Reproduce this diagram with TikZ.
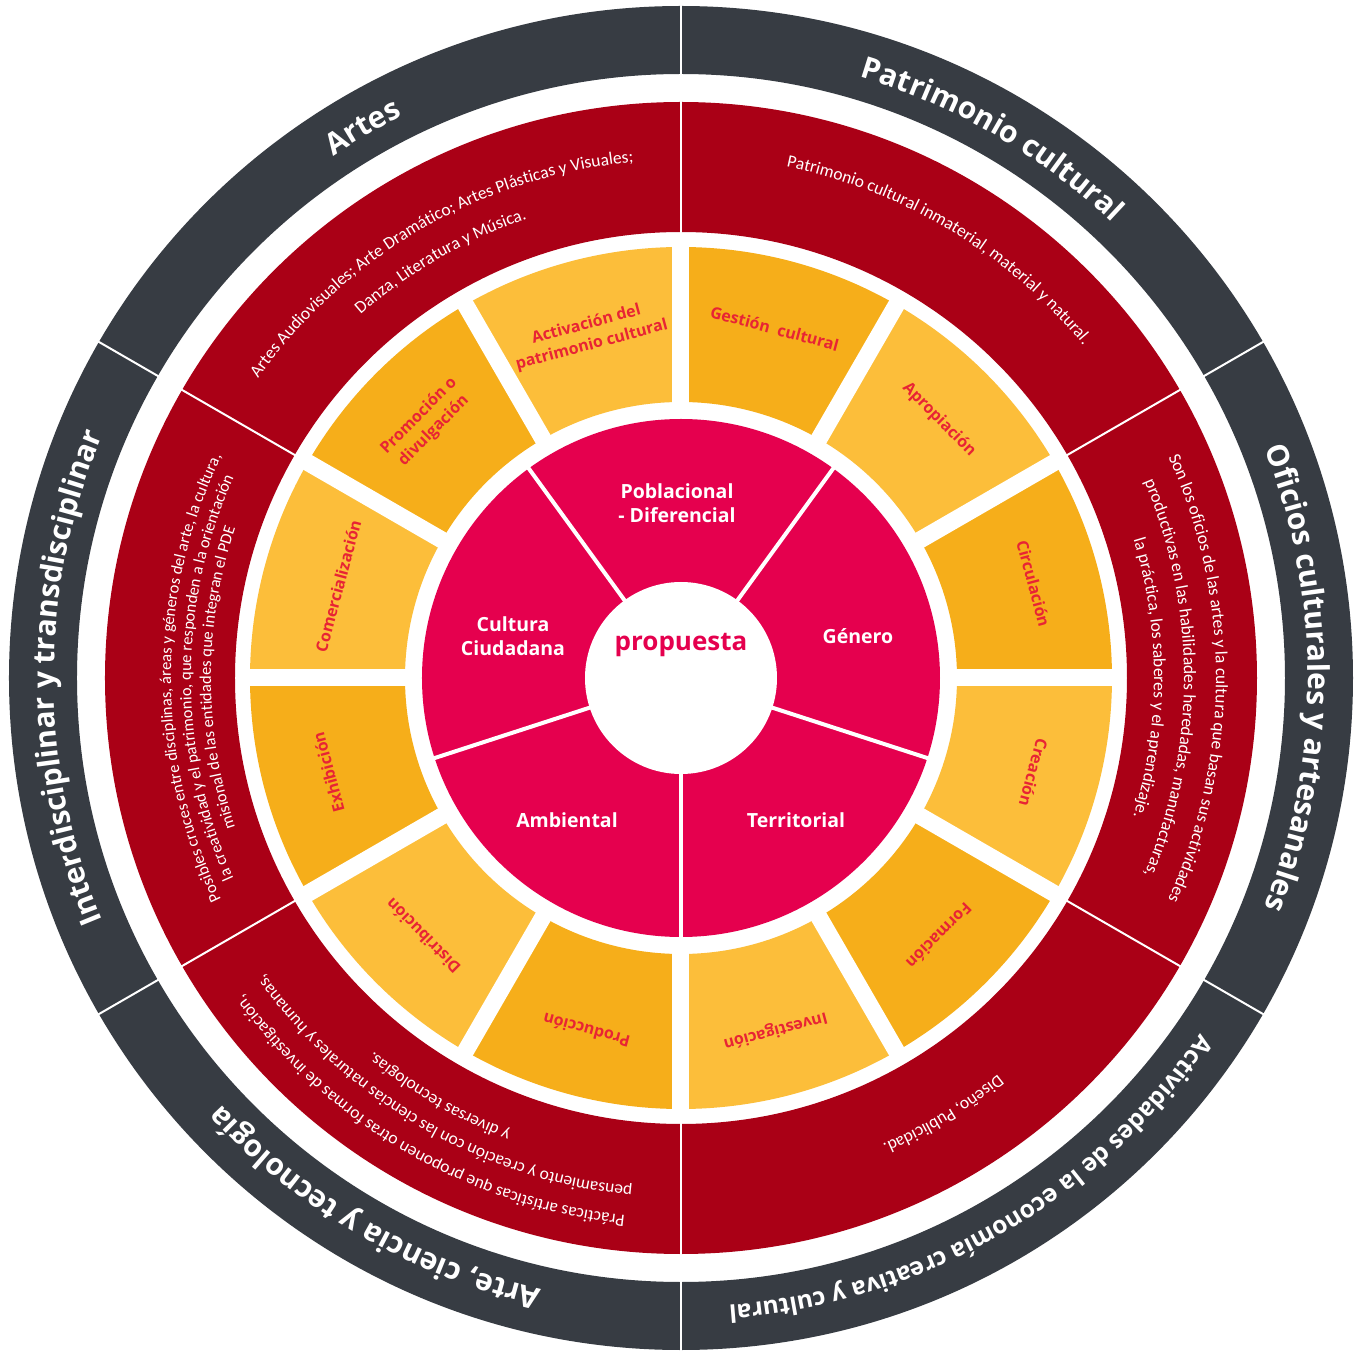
\documentclass[tikz,border=0pt]{standalone}
\usepackage{fontspec}
\setmainfont{Open Sans}
\newfontfamily\descfont{Carlito}
\usetikzlibrary{decorations.text}

\begin{document}
\begin{tikzpicture}[x=1pt, y=1pt,
    ringtitle/.style={decorate, decoration={text along path, text align=center,
      text={|\bfseries\fontsize{30}{36}\selectfont\color{white}|#1}}},
    ringtitlesmall/.style={decorate, decoration={text along path, text align=center,
      text={|\bfseries\fontsize{24.5}{30}\selectfont\color{white}|#1}}},
    ringtext/.style={decorate, decoration={text along path, text align=center,
      text={|\descfont\fontsize{17.5}{21}\selectfont\color{white}|#1}}},
    ringtextsmall/.style={decorate, decoration={text along path, text align=center,
      text={|\descfont\fontsize{16.5}{20}\selectfont\color{white}|#1}}},
    seglabel/.style={text=segred, font=\bfseries\fontsize{16}{21}\selectfont, align=center, inner sep=0},
    corelabel/.style={text=white, font=\bfseries\fontsize{19.5}{24}\selectfont, align=center, inner sep=0},
    divider/.style={white, line width=2}]
  \definecolor{ringdark}{RGB}{55,60,67}
  \definecolor{ringred}{RGB}{170,0,22}
  \definecolor{segdeep}{RGB}{246,174,26}
  \definecolor{seglight}{RGB}{252,190,58}
  \definecolor{corepink}{RGB}{229,0,78}
  \definecolor{segred}{RGB}{232,36,52}
  \def\seg#1#2{\fill[#2] (#1-15:276) arc[start angle=#1-15, end angle=#1+15, radius=276]
    -- (#1+15:431) arc[start angle=#1+15, end angle=#1-15, radius=431] -- cycle;}
  \useasboundingbox (-681,-674) rectangle (680,678);
  \fill[white] (-681,-674) rectangle (680,678);
  \fill[ringdark, even odd rule] (0,0) circle (672) (0,0) circle (604);
  \fill[ringred, even odd rule] (0,0) circle (576) (0,0) circle (446);
  \draw[divider] (30:602) -- (30:674);
  \draw[divider] (90:602) -- (90:674);
  \draw[divider] (150:602) -- (150:674);
  \draw[divider] (210:602) -- (210:674);
  \draw[divider] (270:602) -- (270:674);
  \draw[divider] (330:602) -- (330:674);
  \draw[divider] (30:444) -- (30:578);
  \draw[divider] (90:444) -- (90:578);
  \draw[divider] (150:444) -- (150:578);
  \draw[divider] (210:444) -- (210:578);
  \draw[divider] (270:444) -- (270:578);
  \draw[divider] (330:444) -- (330:578);
  \seg{75}{segdeep}
  \seg{45}{seglight}
  \seg{15}{segdeep}
  \seg{-15}{seglight}
  \seg{-45}{segdeep}
  \seg{-75}{seglight}
  \seg{-105}{segdeep}
  \seg{-135}{seglight}
  \seg{-165}{segdeep}
  \seg{165}{seglight}
  \seg{135}{segdeep}
  \seg{105}{seglight}
  \draw[white, line width=17] (0:440) -- (180:440);
  \draw[white, line width=17] (30:440) -- (210:440);
  \draw[white, line width=17] (60:440) -- (240:440);
  \draw[white, line width=17] (90:440) -- (270:440);
  \draw[white, line width=17] (120:440) -- (300:440);
  \draw[white, line width=17] (150:440) -- (330:440);
  \fill[corepink] (0,0) circle (259);
  \draw[white, line width=4] (-90:90) -- (-90:261);
  \draw[white, line width=4] (-18:90) -- (-18:261);
  \draw[white, line width=4] (54:90) -- (54:261);
  \draw[white, line width=4] (126:90) -- (126:261);
  \draw[white, line width=4] (198:90) -- (198:261);
  \fill[white] (0,0) circle (96);
  \node[text=corepink, font=\bfseries\fontsize{26}{30}\selectfont] (propuesta) at (0,33) {propuesta};
  \node[corelabel] (poblacional) at (-4,175) {Poblacional\\- Diferencial};
  \node[corelabel] (genero) at (177,42) {Género};
  \node[corelabel] (cultura) at (-168,42) {Cultura\\Ciudadana};
  \node[corelabel] (ambiental) at (-114,-142) {Ambiental};
  \node[corelabel] (territorial) at (115,-142) {Territorial};
  \node[seglabel, rotate=-15] (gestion) at (75:362) {Gestión\ \ cultural};
  \node[seglabel, rotate=-45] (apropiacion) at (45:365) {Apropiación};
  \node[seglabel, rotate=-75] (circulacion) at (15:365) {Circulación};
  \node[seglabel, rotate=-105] (creacion) at (-15:365) {Creación};
  \node[seglabel, rotate=-135] (formacion) at (-45:365) {Formación};
  \node[seglabel, rotate=-165] (investigacion) at (-75:365) {Investigación};
  \node[seglabel, rotate=165] (produccion) at (-105:365) {Producción};
  \node[seglabel, rotate=135] (distribucion) at (-135:365) {Distribución};
  \node[seglabel, rotate=105] (exhibicion) at (-165:365) {Exhibición};
  \node[seglabel, rotate=75] (comercializacion) at (165:355) {Comercialización};
  \node[seglabel, rotate=45] (promocion) at (135:360) {Promoción o\\divulgación};
  \node[seglabel, rotate=15] (activacion) at (105:355) {Activación del\\patrimonio cultural};
  \path[ringtitle={Artes}] (165:627) arc[start angle=165, end angle=75, radius=627];
  \path[ringtitle={Patrimonio cultural}] (105:627) arc[start angle=105, end angle=15, radius=627];
  \path[ringtitle={Oficios culturales y artesanales}] (45:627) arc[start angle=45, end angle=-45, radius=627];
  \path[ringtitlesmall={Actividades de la economía creativa y cultural}] (-15:629) arc[start angle=-15, end angle=-105, radius=629];
  \path[ringtitle={Arte, ciencia y tecnología}] (-75:627) arc[start angle=-75, end angle=-165, radius=627];
  \path[ringtitle={Interdisciplinar y transdisciplinar}] (225:627) arc[start angle=225, end angle=135, radius=627];
  \path[ringtext={Artes Audiovisuales; Arte Dramático; Artes Plásticas y Visuales;}] (165:518) arc[start angle=165, end angle=75, radius=518];
  \path[ringtext={Danza, Literatura y Música.}] (165:484) arc[start angle=165, end angle=75, radius=484];
  \path[ringtext={Patrimonio cultural inmaterial, material y natural.}] (104:522) arc[start angle=104, end angle=14, radius=522];
  \path[ringtext={Son los oficios de las artes y la cultura que basan sus actividades}] (45:535) arc[start angle=45, end angle=-45, radius=535];
  \path[ringtext={productivas en las habilidades heredadas, manufacturas,}] (45:503) arc[start angle=45, end angle=-45, radius=503];
  \path[ringtext={la práctica, los saberes y el aprendizaje.}] (45:473) arc[start angle=45, end angle=-45, radius=473];
  \path[ringtext={Diseño, Publicidad.}] (-14:508) arc[start angle=-14, end angle=-104, radius=508];
  \path[ringtext={Prácticas artísticas que proponen otras formas de investigación,}] (-75:540) arc[start angle=-75, end angle=-165, radius=540];
  \path[ringtext={pensamiento y creación con las ciencias naturales y humanas,}] (-75:511) arc[start angle=-75, end angle=-165, radius=511];
  \path[ringtext={y diversas tecnologías.}] (-75:484) arc[start angle=-75, end angle=-165, radius=484];
  \path[ringtextsmall={Posibles cruces entre disciplinas, áreas y géneros del arte, la cultura,}] (225:510) arc[start angle=225, end angle=135, radius=510];
  \path[ringtextsmall={la creatividad y el patrimonio, que responden a la orientación}] (225:490) arc[start angle=225, end angle=135, radius=490];
  \path[ringtextsmall={misional de las entidades que integran el PDE}] (225:470) arc[start angle=225, end angle=135, radius=470];
\end{tikzpicture}
\end{document}
